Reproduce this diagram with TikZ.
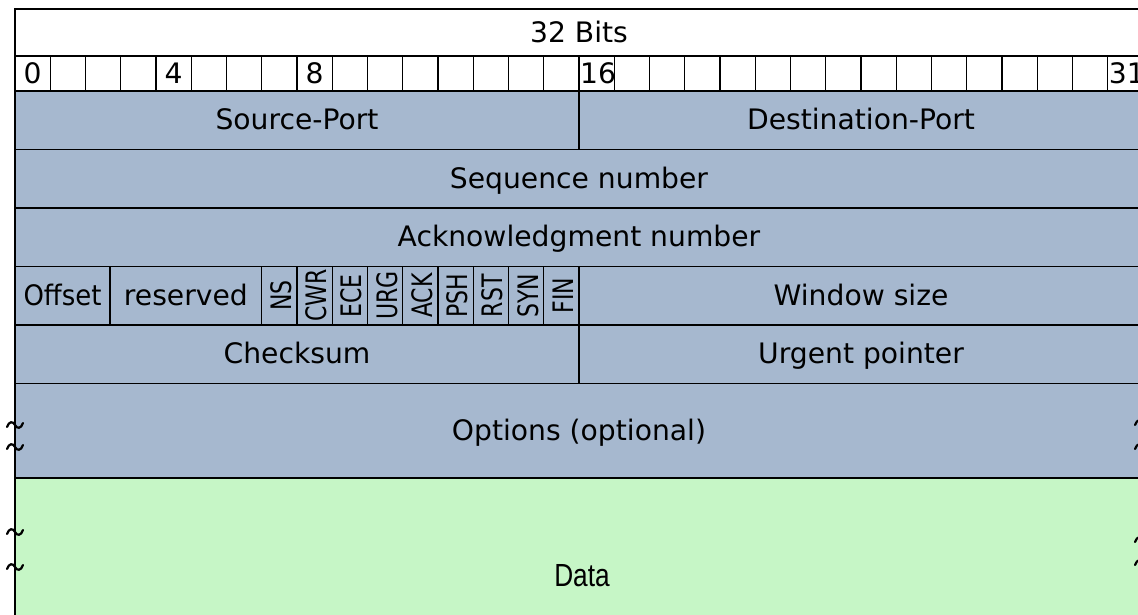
\documentclass[tikz,border=0pt]{standalone}
\usepackage{fontspec}
\setmainfont{DejaVu Sans}
\newfontfamily\datafont{Liberation Sans}
\usepackage{graphicx}
\definecolor{hdr}{RGB}{166,184,207}
\definecolor{dat}{RGB}{198,246,198}
\tikzset{
  field/.style={draw=black, line width=1.1pt, fill=hdr, inner sep=0pt, outer sep=0pt,
    anchor=north west, font=\fontsize{28.2}{34}\selectfont, text height=23pt, text depth=4pt},
  bitcell/.style={draw=black, line width=1.1pt, fill=white, inner sep=0pt, outer sep=0pt,
    anchor=north west, minimum width=35.25pt, minimum height=35pt},
  lbl/.style={inner sep=0pt, font=\fontsize{28.2}{34}\selectfont, text height=23pt, text depth=4pt},
  flaglbl/.style={inner sep=0pt, rotate=90, font=\fontsize{28.2}{34}\selectfont,
    text height=20pt, text depth=0pt},
  brk/.pic={\draw[line width=2.2pt, line cap=round]
    (-8,2) .. controls (-6,-4) and (-2,-4) .. (0,0) .. controls (2,4) and (6,4) .. (8,-2);},
}
\begin{document}
\begin{tikzpicture}[x=1pt,y=-1pt]
\useasboundingbox (0,0) rectangle (1138,614);
\clip (0,0) rectangle (1138,614);
% title row
\node[field, fill=white, minimum width=1128pt, minimum height=47pt] (title) at (15,9) {32 Bits};
\draw[line width=1.8pt] (title.north west) -- (title.north east);
% bit cells
\foreach \i in {0,...,31}{
  \node[bitcell] (b\i) at ({15+35.25*\i},56) {};
}
\node[lbl] (l0) at (b0.center) {0};
\node[lbl] (l4) at (b4.center) {4};
\node[lbl] (l8) at (b8.center) {8};
\node[lbl, anchor=west] (l16) at ([xshift=1pt]b16.west) {16};
\node[lbl, anchor=west] (l31) at ([xshift=1pt]b31.west) {31};
% rows
\node[field, minimum width=564pt, minimum height=58.5pt] (src) at (15,91) {Source-Port};
\node[field, minimum width=564pt, minimum height=58.5pt] (dst) at (579,91) {Destination-Port};
\node[field, minimum width=1128pt, minimum height=58.5pt] (seq) at (15,149.5) {Sequence number};
\node[field, minimum width=1128pt, minimum height=58.5pt] (ack) at (15,208) {Acknowledgment number};
\node[field, minimum width=95pt, minimum height=58.5pt] (off) at (15,266.5) {\scalebox{0.92}[1]{Offset}};
\node[field, minimum width=151.75pt, minimum height=58.5pt] (res) at (110,266.5) {reserved};
\foreach \f [count=\k from 0] in {NS,CWR,ECE,URG,ACK,PSH,RST,SYN,FIN}{
  \node[field, minimum width=35.25pt, minimum height=58.5pt] (f\k) at ({261.75+35.25*\k},266.5) {};
  \node[flaglbl] (t\k) at ([xshift=2pt]f\k.center) {\scalebox{0.78}[1]{\f}};
}
\node[field, minimum width=564pt, minimum height=58.5pt] (win) at (579,266.5) {Window size};
\node[field, minimum width=564pt, minimum height=58.5pt] (chk) at (15,325) {Checksum};
\node[field, minimum width=564pt, minimum height=58.5pt] (urg) at (579,325) {Urgent pointer};
\node[field, minimum width=1128pt, minimum height=94.5pt] (opt) at (15,383.5) {Options (optional)};
\node[field, fill=dat, minimum width=1128pt, minimum height=240pt] (data) at (15,478) {};
\node[inner sep=0pt, font=\fontsize{32}{38}\selectfont\datafont] (dlbl) at (582,576) {\scalebox{0.82}[1]{Data}};
\draw[line width=1.8pt] (opt.north west) -- (opt.north east);
\draw[line width=1.8pt] (data.north west) -- (data.north east);
% break marks
\pic at (15,425) {brk};
\pic at (15,447) {brk};
\pic at (15,532) {brk};
\pic at (15,567) {brk};
\pic at (1143,423) {brk};
\pic at (1143,447) {brk};
\pic at (1143,540) {brk};
\pic at (1143,563) {brk};
\end{tikzpicture}
\end{document}
